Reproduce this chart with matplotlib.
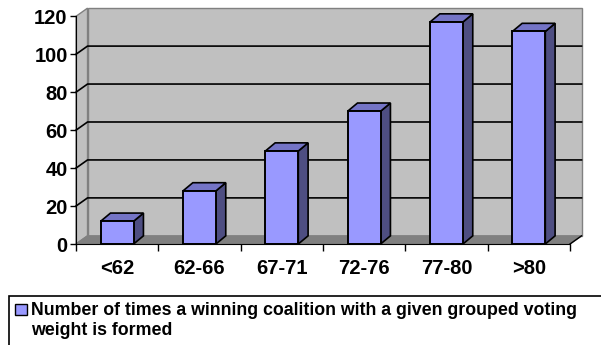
import matplotlib
matplotlib.use('Agg')
import matplotlib.pyplot as plt
from matplotlib.patches import Polygon, Rectangle

plt.rcParams['font.family'] = ['Liberation Sans', 'DejaVu Sans']
plt.rcParams['font.weight'] = 'bold'

# data
categories = ['<62', '62-66', '67-71', '72-76', '77-80', '>80']
counts = [12, 28, 49, 70, 117, 112]
y_ticks = [0, 20, 40, 60, 80, 100, 120]
legend_lines = ['Number of times a winning coalition with a given grouped voting',
                'weight is formed']

# colours (old excel 3d column look)
front_col = '#9999FF'
top_col = '#7474C6'
side_col = '#4E4E82'
wall_col = '#C0C0C0'
floor_col = '#808080'

W, H = 601, 345
fig = plt.figure(figsize=(W / 100, H / 100), dpi=100)
ax = fig.add_axes([76 / W, (H - 244) / H, 494 / W, 227.7 / H])
ax.set_xlim(0, len(categories))
ax.set_ylim(0, 120)
ax.set_facecolor('none')

n = len(categories)
# depth offsets in data units
dx = 0.14
dy = 4.3
bw = 0.4

# back wall, side wall, floor
ax.add_patch(Polygon([(dx, dy), (n + dx, dy), (n + dx, 120 + dy), (dx, 120 + dy)],
                     closed=True, fc=wall_col, ec=floor_col, lw=1, clip_on=False, zorder=1))
ax.add_patch(Polygon([(0, 0), (dx, dy), (dx, 120 + dy), (0, 120)],
                     closed=True, fc=wall_col, ec=floor_col, lw=1, clip_on=False, zorder=1))
ax.add_patch(Polygon([(0, 0), (n, 0), (n + dx, dy), (dx, dy)],
                     closed=True, fc=floor_col, ec=floor_col, lw=1, clip_on=False, zorder=1))
ax.plot([n, n + dx], [0, dy], color='black', lw=1, clip_on=False, zorder=2)

# gridlines on the walls
for v in y_ticks[1:-1]:
    ax.plot([0, dx, n + dx], [v, v + dy, v + dy], color='black', lw=1.2,
            clip_on=False, zorder=2)

# bars
for i, v in enumerate(counts):
    x0 = i + 0.5 - bw / 2
    x1 = x0 + bw
    ax.add_patch(Polygon([(x1, 0), (x1 + dx * 0.85, dy), (x1 + dx * 0.85, v + dy), (x1, v)],
                         closed=True, fc=side_col, ec='black', lw=1.2, clip_on=False, zorder=3))
    ax.add_patch(Polygon([(x0, v), (x1, v), (x1 + dx * 0.85, v + dy), (x0 + dx * 0.85, v + dy)],
                         closed=True, fc=top_col, ec='black', lw=1.2, clip_on=False, zorder=3))
    ax.add_patch(Rectangle((x0, 0), bw, v, fc=front_col, ec='black', lw=1.4,
                           clip_on=False, zorder=4))

# axes
for s in ['top', 'right']:
    ax.spines[s].set_visible(False)
ax.spines['left'].set_zorder(5)
ax.spines['bottom'].set_zorder(5)
ax.set_yticks(y_ticks)
ax.set_yticklabels([str(t) for t in y_ticks], fontsize=14.5, fontweight='bold')
ax.tick_params(axis='y', length=4, width=1, pad=2)
ax.set_xticks([i + 0.5 for i in range(n)])
ax.set_xticklabels(categories, fontsize=14.5, fontweight='bold')
ax.set_xticks(range(n + 1), minor=True)
ax.tick_params(axis='x', which='major', length=0, pad=11)
ax.tick_params(axis='x', which='minor', length=5, width=1)

# legend box (runs off the right and bottom edge)
fig.patches.append(Rectangle((9 / W, -0.1), 1.2, (H - 296) / H + 0.1,
                             transform=fig.transFigure, fc='white', ec='black', lw=1.2))
fig.patches.append(Rectangle((15 / W, (H - 315) / H), 12 / W, 11 / H,
                             transform=fig.transFigure, fc=front_col, ec='black', lw=1))
for k, line in enumerate(legend_lines):
    fig.text(31 / W, (H - 315 - 20 * k) / H, line, fontsize=12.8, fontweight='bold',
             va='baseline', ha='left')

fig.savefig('out.png', dpi=100)
